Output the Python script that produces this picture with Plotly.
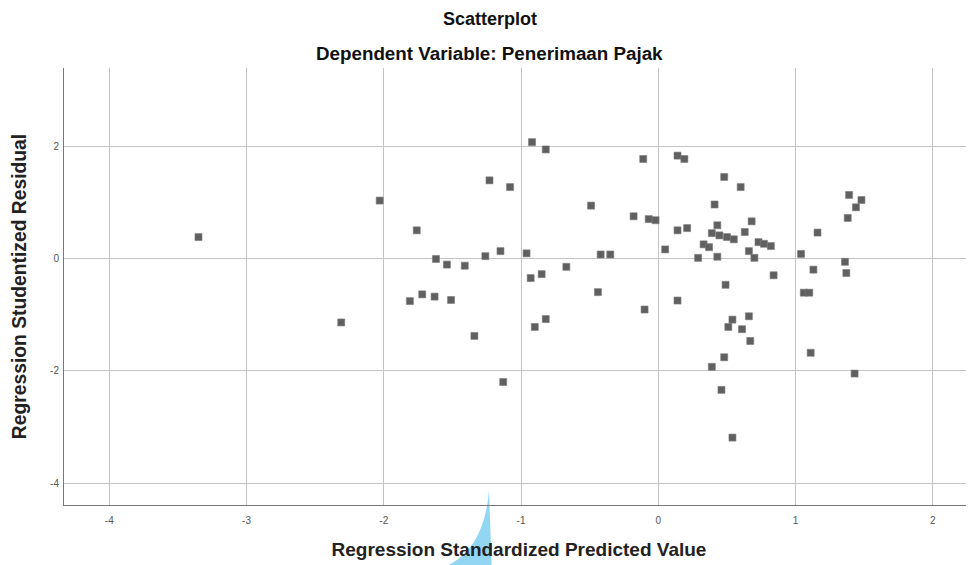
import plotly.graph_objects as go

# Regression Standardized Predicted Value
x_pred = [-3.35, -2.03, -1.76, -1.62, -1.54, -1.41, -1.26, -1.15, -0.96, -0.93,
          -0.85, -0.67, -0.92, -0.82, -1.23, -1.08, -1.81, -1.72, -1.63, -1.51,
          -1.34, -0.90, -0.82, -1.13, -2.31, -0.44, -0.10, -0.42, -0.35, -0.49,
          -0.18, -0.07, -0.02, -0.11, 0.14, 0.19, 0.05, 0.14, 0.21, 0.29,
          0.33, 0.37, 0.43, 0.41, 0.43, 0.39, 0.445, 0.50, 0.55, 0.48,
          0.60, 0.68, 0.63, 0.73, 0.77, 0.82, 0.66, 0.70, 0.84, 0.49,
          0.14, 0.54, 0.51, 0.66, 0.61, 0.67, 0.48, 0.39, 0.46, 0.54,
          1.04, 1.16, 1.13, 1.36, 1.37, 1.39, 1.48, 1.44, 1.38, 1.06,
          1.10, 1.11, 1.43]

# Regression Studentized Residual
y_resid = [0.38, 1.03, 0.50, -0.01, -0.11, -0.13, 0.04, 0.13, 0.09, -0.35,
           -0.28, -0.15, 2.07, 1.94, 1.39, 1.27, -0.76, -0.64, -0.68, -0.74,
           -1.38, -1.22, -1.08, -2.20, -1.14, -0.60, -0.91, 0.07, 0.07, 0.94,
           0.75, 0.70, 0.68, 1.77, 1.83, 1.77, 0.16, 0.50, 0.54, 0.01,
           0.25, 0.20, 0.03, 0.96, 0.59, 0.45, 0.41, 0.38, 0.34, 1.45,
           1.27, 0.66, 0.47, 0.29, 0.26, 0.22, 0.13, 0.01, -0.30, -0.47,
           -0.75, -1.09, -1.22, -1.03, -1.26, -1.47, -1.76, -1.93, -2.34, -3.19,
           0.08, 0.46, -0.20, -0.06, -0.26, 1.13, 1.04, 0.91, 0.72, -0.61,
           -0.61, -1.68, -2.05]

x_ticks = [-4, -3, -2, -1, 0, 1, 2]
x_tick_labels = ["-4", "-3", "-2", "-1", "0", "1", "2"]
y_ticks = [-4, -2, 0, 2]
y_tick_labels = ["-4", "-2", "0", "2"]

title_main = "Scatterplot"
title_sub = "Dependent Variable: Penerimaan Pajak"
x_title = "Regression Standardized Predicted Value"
y_title = "Regression Studentized Residual"

fig = go.Figure()
fig.add_trace(go.Scatter(
    x=x_pred, y=y_resid, mode="markers",
    marker=dict(symbol="square", size=7, color="#606060",
                line=dict(width=0.6, color="#7a7a7a")),
    showlegend=False, hoverinfo="skip",
))

FONT = "Liberation Sans, Arial, sans-serif"
axis_font = dict(family=FONT, size=10, color="#555555")
title_font = dict(family=FONT, size=19, color="#222222")

# page body has an 8px margin, so the figure is sized to fit the window
fig.update_layout(
    width=966, height=557,
    margin=dict(l=56, r=0, t=60, b=60, autoexpand=False),
    paper_bgcolor="white", plot_bgcolor="white",
    xaxis=dict(
        range=[-4.33, 2.30], tickvals=x_ticks, ticktext=x_tick_labels,
        showgrid=True, gridcolor="#c4c4c4", gridwidth=1,
        zeroline=False, showline=True, linecolor="#777777", linewidth=1,
        ticks="", tickfont=axis_font, ticklabelstandoff=6, automargin=False,
        title=dict(text="<b>" + x_title + "</b>", font=title_font, standoff=17),
    ),
    yaxis=dict(
        range=[-4.39, 3.39], tickvals=y_ticks, ticktext=y_tick_labels,
        showgrid=True, gridcolor="#c4c4c4", gridwidth=1,
        zeroline=False, showline=True, linecolor="#777777", linewidth=1,
        ticks="", tickfont=axis_font, ticklabelstandoff=2, automargin=False,
        title=dict(text="<b>" + y_title + "</b>", font=dict(family=FONT, size=19.3, color="#222222"), standoff=18),
    ),
    annotations=[
        dict(text="<b>" + title_main + "</b>", xref="paper", yref="paper",
             x=0.468, y=1.112, xanchor="center", yanchor="middle", showarrow=False,
             font=dict(family=FONT, size=18, color="#111111")),
        dict(text="<b>" + title_sub + "</b>", xref="paper", yref="paper",
             x=0.468, y=1.034, xanchor="center", yanchor="middle", showarrow=False,
             font=dict(family=FONT, size=18.8, color="#111111")),
    ],
    shapes=[
        dict(type="path", xref="paper", yref="paper", layer="below",
             path="M 0.467 0.034 Q 0.462 -0.10 0.420 -0.14 L 0.470 -0.14 Z",
             fillcolor="rgba(110,200,240,0.75)", line=dict(width=0)),
    ],
)

fig.write_html("out.html")
